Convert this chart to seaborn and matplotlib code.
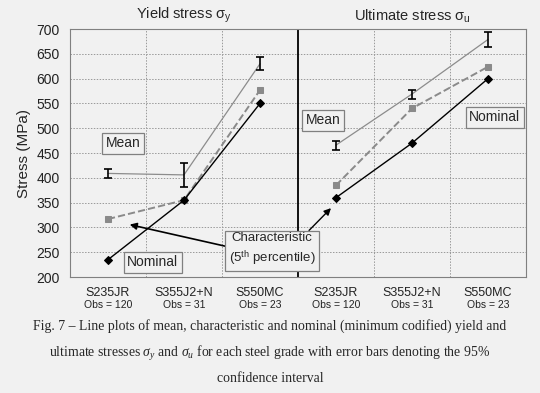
import pandas as pd
import matplotlib as mpl
import matplotlib.pyplot as plt
import seaborn as sns

sns.set_style('white')
mpl.rcParams['font.family'] = ['Liberation Sans', 'DejaVu Sans']
mpl.rcParams['mathtext.fontset'] = 'custom'
mpl.rcParams['mathtext.rm'] = 'Liberation Sans'
mpl.rcParams['mathtext.it'] = 'Liberation Serif:italic'

grades = ['S235JR', 'S355J2+N', 'S550MC']
obs = [120, 31, 23]

yield_mean = [409, 406, 630]
yield_lo = [400, 382, 617]
yield_hi = [418, 430, 644]
yield_char = [317, 355, 577]
yield_nom = [235, 355, 550]

ult_mean = [466, 569, 679]
ult_lo = [457, 559, 663]
ult_hi = [475, 578, 695]
ult_char = [385, 540, 624]
ult_nom = [360, 470, 600]

bg = '#f1f1f1'
f = plt.figure(figsize=(5.4, 3.93), dpi=100)
f.patch.set_facecolor(bg)
ax = f.add_axes([0.1296, 0.295, 0.8444, 0.631])
ax.set_facecolor(bg)

panels = [(0, yield_mean, yield_lo, yield_hi, yield_char, yield_nom),
          (3, ult_mean, ult_lo, ult_hi, ult_char, ult_nom)]
for off, mean, lo, hi, char, nom in panels:
    d = pd.DataFrame({'x': [off + i for i in range(3)], 'mean': mean,
                      'lo': lo, 'hi': hi, 'char': char, 'nom': nom})
    sns.lineplot(x='x', y='mean', data=d, ax=ax, color='#8c8c8c', lw=0.9, zorder=3)
    ax.errorbar(d['x'], d['mean'], yerr=[d['mean'] - d['lo'], d['hi'] - d['mean']],
                fmt='none', ecolor='black', elinewidth=1.2, capsize=3, capthick=1.2, zorder=4)
    sns.lineplot(x='x', y='char', data=d, ax=ax, color='#8a8a8a', lw=1.4,
                 dashes=(6, 4), linestyle='--', marker='s', markersize=5,
                 markeredgecolor='#8a8a8a', zorder=3)
    sns.lineplot(x='x', y='nom', data=d, ax=ax, color='black', lw=1.0,
                 marker='D', markersize=4, markeredgecolor='black', zorder=3)

ax.set_xlim(-0.5, 5.5)
ax.set_ylim(200, 700)
ax.set_yticks(range(200, 701, 50))
ax.set_xticks([0.5, 1.5, 3.5, 4.5])
ax.set_xticklabels([])
ax.tick_params(axis='both', direction='out', length=4, color='#808080', labelsize=10,
               colors='#222222')
ax.grid(True, ls=(0, (1.5, 1.5)), color='#9a9a9a', lw=0.7)
ax.axvline(2.5, color='black', lw=1.3, zorder=2)
for s in ax.spines.values():
    s.set_color('#808080')
ax.set_xlabel('')
ax.set_ylabel('Stress (MPa)', fontsize=11)

labels = grades + grades
for i, g in enumerate(labels):
    ax.text(i, 168, g, ha='center', va='center', fontsize=9, color='#222222')
    ax.text(i, 143, 'Obs = %d' % obs[i % 3], ha='center', va='center', fontsize=7.5,
            color='#222222')

ax.text(1, 708, r'Yield stress σ$_\mathrm{y}$', ha='center', va='bottom', fontsize=10.5)
ax.text(4, 708, r'Ultimate stress σ$_\mathrm{u}$', ha='center', va='bottom', fontsize=10.5)

box = dict(boxstyle='square,pad=0.25', fc=bg, ec='#808080', lw=0.9)
ax.text(0.2, 470, 'Mean', fontsize=10, ha='center', va='center', bbox=box, zorder=6)
ax.text(0.59, 230, 'Nominal', fontsize=10, ha='center', va='center', bbox=box, zorder=6)
ax.text(2.83, 516, 'Mean', fontsize=10, ha='center', va='center', bbox=box, zorder=6)
ax.text(5.09, 522, 'Nominal', fontsize=10, ha='center', va='center', bbox=box, zorder=6)
ax.text(2.16, 256, 'Characteristic\n(5$^\\mathrm{th}$ percentile)', fontsize=9.5,
        ha='center', va='center', bbox=dict(boxstyle='square,pad=0.3', fc=bg,
                                            ec='#808080', lw=0.9), zorder=6,
        linespacing=1.3)
ax.annotate('', xy=(0.25, 307), xytext=(1.58, 261),
            arrowprops=dict(arrowstyle='-|>', color='black', lw=1.2, mutation_scale=10),
            zorder=5)
ax.annotate('', xy=(2.96, 343), xytext=(2.62, 290),
            arrowprops=dict(arrowstyle='-|>', color='black', lw=1.0, mutation_scale=10),
            zorder=5)

cap = ('Fig. 7 – Line plots of mean, characteristic and nominal (minimum codified) yield and\n'
       'ultimate stresses $\\mathit{\\sigma_y}$ and $\\mathit{\\sigma_u}$ for each steel grade '
       'with error bars denoting the 95%\nconfidence interval')
f.text(0.5, 0.188, cap, ha='center', va='top', fontsize=9.9, family='Liberation Serif',
       linespacing=1.85)

plt.savefig('out.png', dpi=100, facecolor=bg)
